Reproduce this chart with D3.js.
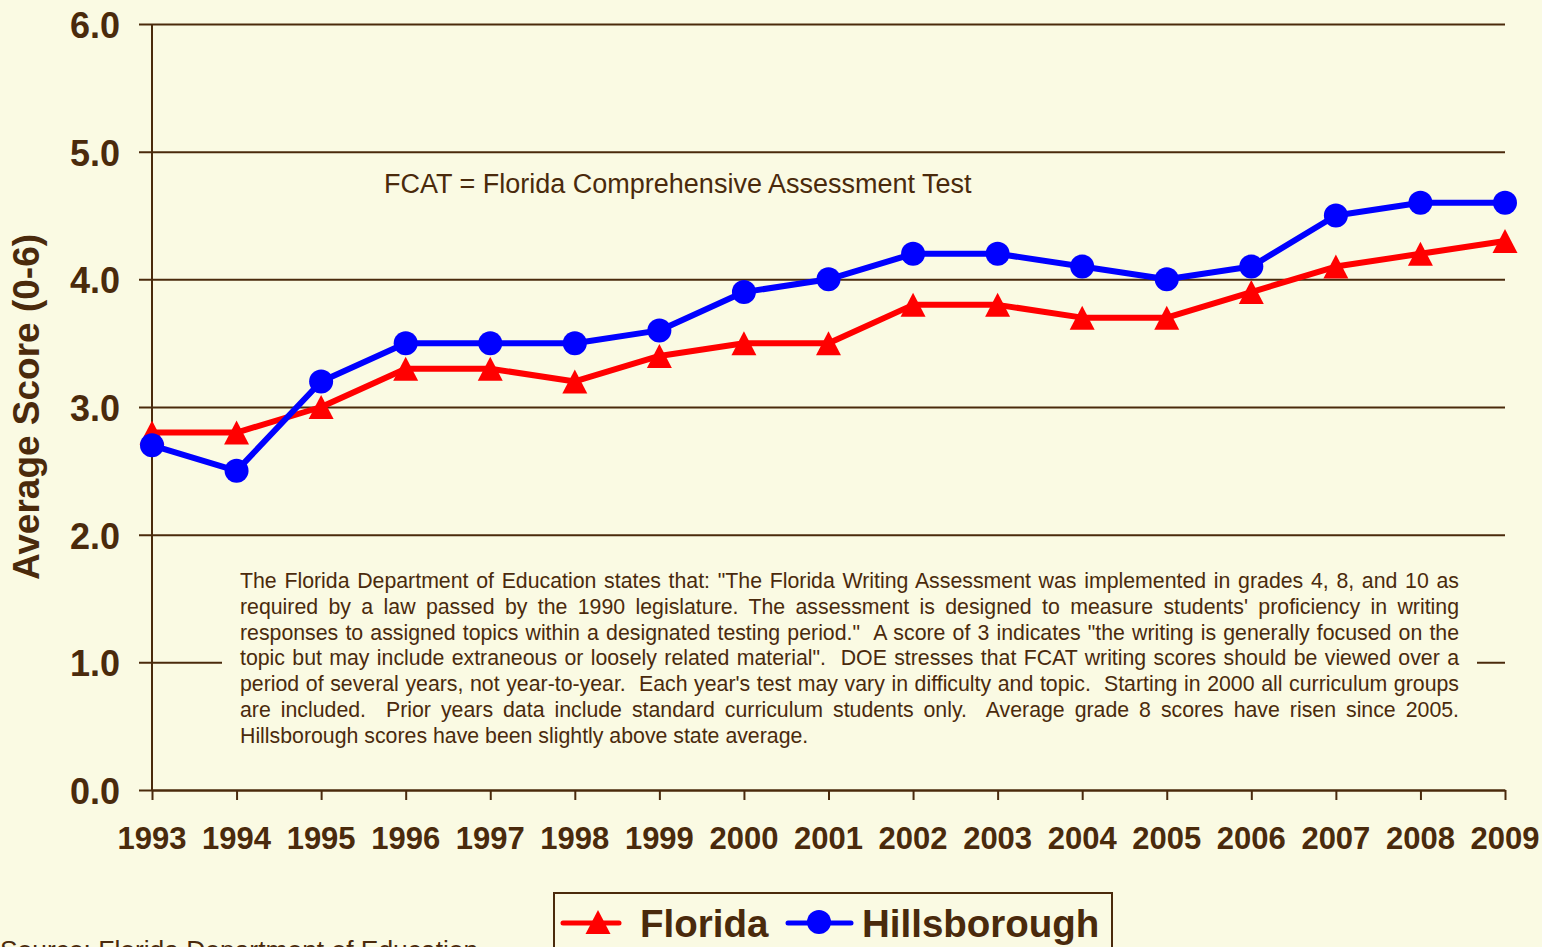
<!DOCTYPE html>
<html>
<head>
<meta charset="utf-8">
<script src="https://cdn.jsdelivr.net/npm/d3@7"></script>
<style>
  body { margin: 0; background: #fafae3; overflow: hidden; }
  text { font-family: "Liberation Sans", Arial, sans-serif; fill: #4a2a0c; }
</style>
</head>
<body>
<svg id="chart" width="1542" height="947"></svg>
<script>
// data
var years = [1993, 1994, 1995, 1996, 1997, 1998, 1999, 2000, 2001, 2002, 2003, 2004, 2005, 2006, 2007, 2008, 2009];
var florida = [2.8, 2.8, 3.0, 3.3, 3.3, 3.2, 3.4, 3.5, 3.5, 3.8, 3.8, 3.7, 3.7, 3.9, 4.1, 4.2, 4.3];
var hillsborough = [2.7, 2.5, 3.2, 3.5, 3.5, 3.5, 3.6, 3.9, 4.0, 4.2, 4.2, 4.1, 4.0, 4.1, 4.5, 4.6, 4.6];
var yTicks = [0, 1, 2, 3, 4, 5, 6];

var noteLines = [
  "The Florida Department of Education states that: \"The Florida Writing Assessment was implemented in grades 4, 8, and 10 as",
  "required by a law passed by the 1990 legislature. The assessment is designed to measure students' proficiency in writing",
  "responses to assigned topics within a designated testing period.\"  A score of 3 indicates \"the writing is generally focused on the",
  "topic but may include extraneous or loosely related material\".  DOE stresses that FCAT writing scores should be viewed over a",
  "period of several years, not year-to-year.  Each year's test may vary in difficulty and topic.  Starting in 2000 all curriculum groups",
  "are included.  Prior years data include standard curriculum students only.  Average grade 8 scores have risen since 2005.",
  "Hillsborough scores have been slightly above state average."
];

var ink = "#4a2a0c", bg = "#fafae3";
var svg = d3.select("#chart");

var x = d3.scalePoint().domain(years).range([152, 1505]);
var y = d3.scaleLinear().domain([0, 6]).range([790, 24]);

// horizontal gridlines with outside ticks
svg.append("g")
    .attr("transform", "translate(152,0)")
    .call(d3.axisLeft(y).tickValues(yTicks).tickSize(-1353).tickSizeOuter(0).tickFormat(""))
    .call(function (g) {
        g.select(".domain").remove();
        g.selectAll("line").attr("stroke", ink).attr("stroke-width", 2).attr("x1", -13);
    });

// y labels
svg.append("g").selectAll("text")
    .data(yTicks).enter().append("text")
    .attr("x", 120).attr("y", function (d) { return y(d) + 14; })
    .attr("text-anchor", "end")
    .style("font-size", "36px").style("font-weight", "bold")
    .text(function (d) { return d.toFixed(1); });

// x axis
svg.append("g")
    .attr("transform", "translate(0,790)")
    .call(d3.axisBottom(x).tickSize(10).tickSizeOuter(0).tickFormat(""))
    .call(function (g) {
        g.select(".domain").attr("stroke", ink).attr("stroke-width", 2);
        g.selectAll("line").attr("stroke", ink).attr("stroke-width", 2);
    });

svg.append("g").selectAll("text")
    .data(years).enter().append("text")
    .attr("x", function (d) { return x(d); }).attr("y", 849)
    .attr("text-anchor", "middle")
    .style("font-size", "31px").style("font-weight", "bold")
    .text(function (d) { return d; });

// y axis line
svg.append("line")
    .attr("x1", 152).attr("x2", 152).attr("y1", 24).attr("y2", 790)
    .attr("stroke", ink).attr("stroke-width", 2);

// y title
svg.append("text")
    .attr("transform", "translate(39,407) rotate(-90)")
    .attr("text-anchor", "middle")
    .style("font-size", "37px").style("font-weight", "bold")
    .text("Average Score (0-6)");

svg.append("text")
    .attr("x", 384).attr("y", 193)
    .style("font-size", "27px")
    .text("FCAT = Florida Comprehensive Assessment Test");

// note box covers the gridlines
svg.append("rect")
    .attr("x", 222).attr("y", 562).attr("width", 1255).attr("height", 190)
    .attr("fill", bg);

var noteG = svg.append("g");
noteLines.forEach(function (line, i) {
    var t = noteG.append("text")
        .attr("x", 240).attr("y", 588 + i * 25.8)
        .style("font-size", "21.3px")
        .style("white-space", "pre")
        .text(line);
    if (i < noteLines.length - 1) {
        var w = t.node().getComputedTextLength();
        var spaces = line.split(" ").length - 1;
        t.style("word-spacing", ((1459 - 240 - w) / spaces) + "px");
    }
});

// series lines
var line = d3.line()
    .x(function (d, i) { return x(years[i]); })
    .y(function (d) { return y(d); });

svg.append("path").datum(florida)
    .attr("d", line).attr("fill", "none")
    .attr("stroke", "#ff0000").attr("stroke-width", 6).attr("stroke-linejoin", "round");

svg.append("path").datum(hillsborough)
    .attr("d", line).attr("fill", "none")
    .attr("stroke", "#0000ff").attr("stroke-width", 6).attr("stroke-linejoin", "round");

// triangle centred on its bounding box
var boxTriangle = {
    draw: function (context, size) {
        var h = Math.sqrt(size), w = h * 0.52;
        context.moveTo(0, -h / 2);
        context.lineTo(w, h / 2);
        context.lineTo(-w, h / 2);
        context.closePath();
    }
};
var tri = d3.symbol().type(boxTriangle).size(576);

svg.append("g").selectAll("path")
    .data(florida).enter().append("path")
    .attr("d", tri)
    .attr("transform", function (d, i) { return "translate(" + x(years[i]) + "," + y(d) + ")"; })
    .attr("fill", "#ff0000");

svg.append("g").selectAll("circle")
    .data(hillsborough).enter().append("circle")
    .attr("cx", function (d, i) { return x(years[i]); })
    .attr("cy", function (d) { return y(d); })
    .attr("r", 12)
    .attr("fill", "#0000ff");

// legend
var leg = svg.append("g");
leg.append("rect")
    .attr("x", 554).attr("y", 893).attr("width", 558).attr("height", 70)
    .attr("fill", "none").attr("stroke", ink).attr("stroke-width", 2);
leg.append("line").attr("x1", 563).attr("x2", 619).attr("y1", 923).attr("y2", 923)
    .attr("stroke", "#ff0000").attr("stroke-width", 5).attr("stroke-linecap", "round");
leg.append("path").attr("d", tri).attr("transform", "translate(598,922)").attr("fill", "#ff0000");
leg.append("text").attr("x", 640).attr("y", 937)
    .style("font-size", "38.5px").style("font-weight", "bold").text("Florida");
leg.append("line").attr("x1", 788).attr("x2", 851).attr("y1", 923).attr("y2", 923)
    .attr("stroke", "#0000ff").attr("stroke-width", 5).attr("stroke-linecap", "round");
leg.append("circle").attr("cx", 819).attr("cy", 922).attr("r", 12).attr("fill", "#0000ff");
leg.append("text").attr("x", 862).attr("y", 937)
    .style("font-size", "38.5px").style("font-weight", "bold").text("Hillsborough");

svg.append("text")
    .attr("x", 0).attr("y", 959)
    .style("font-size", "26.4px")
    .text("Source: Florida Department of Education");
</script>
</body>
</html>
